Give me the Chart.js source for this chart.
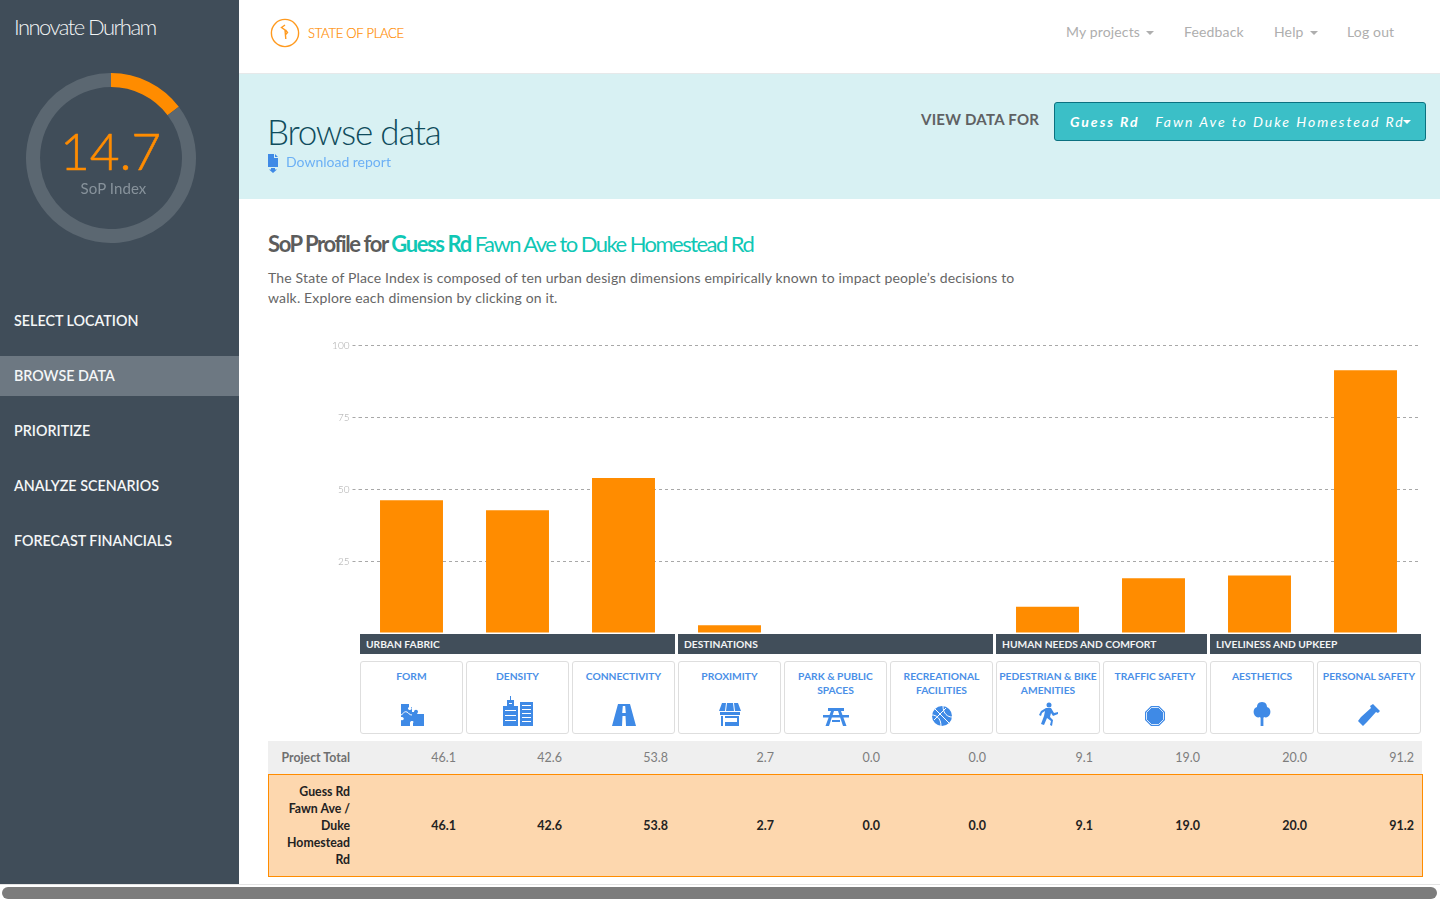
<!DOCTYPE html>
<html><head><meta charset="utf-8">
<script src="https://cdn.jsdelivr.net/npm/chart.js@4"></script>
<style>
html,body{margin:0;padding:0;width:1440px;height:900px;overflow:hidden;background:#fff;font-family:Lato,sans-serif;color:#666}
.t{position:absolute;white-space:nowrap;line-height:20px;height:20px}
.box{position:absolute;box-sizing:border-box}
.nav{position:absolute;left:14px;font-size:14.3px;font-weight:600;color:#f4f6f7;line-height:20px;white-space:nowrap}
.top{position:absolute;top:22px;font-size:14px;letter-spacing:.15px;color:#aeaeae;line-height:20px;white-space:nowrap;font-weight:400}
.caret{display:inline-block;border:4px solid transparent;border-top-color:#aeaeae;border-bottom:0;margin-left:6px;vertical-align:2px}
.grp{position:absolute;top:634px;height:20px;background:#414e5a;color:#f2f4f5;font-size:10.25px;font-weight:700;line-height:21px;padding-left:6px;box-sizing:border-box;white-space:nowrap}
.card{position:absolute;top:661px;height:73px;box-sizing:border-box;border:1px solid #dedede;border-radius:3px;background:#fff;text-align:center;color:#4a8fe7;font-size:10.25px;font-weight:700;line-height:14px;padding-top:7px}
.card svg{position:absolute;left:50%;bottom:7px;transform:translateX(-50%);fill:#3f8ae6}
.v{position:absolute;text-align:right;font-size:12.5px;line-height:20px;white-space:nowrap}
</style></head><body>

<div class="box" style="left:0;top:0;width:239px;height:884px;background:#404d59"></div>
<div class="box" style="left:0;top:356px;width:239px;height:40px;background:#6d7882"></div>
<div class="t" style="left:14px;top:16px;font-size:22px;line-height:22px;font-weight:300;letter-spacing:-1.55px;color:#f2f4f5">Innovate Durham</div>
<div style="position:absolute;left:21px;top:68px;width:180px;height:180px"><canvas id="ring"></canvas></div>
<div class="t" style="left:0;width:221px;text-align:center;top:124px;font-size:51.5px;line-height:52px;height:52px;font-weight:300;-webkit-text-stroke:.6px #ff8c00;letter-spacing:-.2px;color:#ff8c00" id="idx"></div>
<div class="t" style="left:0;width:227px;text-align:center;top:178px;font-size:15px;letter-spacing:.1px;color:#87929b">SoP Index</div>
<div class="nav" style="top:311px">SELECT LOCATION</div>
<div class="nav" style="top:366px">BROWSE DATA</div>
<div class="nav" style="top:421px">PRIORITIZE</div>
<div class="nav" style="top:476px">ANALYZE SCENARIOS</div>
<div class="nav" style="top:531px">FORECAST FINANCIALS</div>

<svg style="position:absolute;left:270px;top:18px" width="30" height="30" viewBox="0 0 30 30" fill="none" stroke="#ff9a1f" stroke-width="1.4"><circle cx="15" cy="15" r="13.6"/><path d="M15 7l-3.500 2.500 3.500 2.500 .8 9M15.500 12l2 2.500-1.800 2"/></svg>
<div class="t" style="left:308px;top:23px;font-size:13px;font-weight:300;-webkit-text-stroke:.2px #ff8c00;letter-spacing:-.25px;color:#ff8c00">STATE OF PLACE</div>
<div class="top" style="left:1066px">My projects<span class="caret"></span></div>
<div class="top" style="left:1184px">Feedback</div>
<div class="top" style="left:1274px">Help<span class="caret"></span></div>
<div class="top" style="left:1347px">Log out</div>

<div class="box" style="left:239px;top:73px;width:1201px;height:1px;background:#e6e9ea"></div>
<div class="box" style="left:239px;top:74px;width:1201px;height:125px;background:#d8f1f3"></div>
<div class="t" style="left:267px;top:110px;font-size:35px;line-height:42px;height:42px;font-weight:300;letter-spacing:-1.2px;color:#0f4c5c">Browse data</div>
<svg style="position:absolute;left:268px;top:154px" width="10" height="19" viewBox="0 0 10 19" fill="#3f8ae6"><path d="M0 0h6v4h4v9H0zM7 0l3 3H7zM3 14h4v1.500h2l-4 3.500-4-3.500h2z"/></svg>
<div class="t" style="left:286px;top:152px;font-size:14px;font-weight:400;color:#6cb0f5">Download report</div>
<div class="t" style="left:921px;top:109px;font-size:15px;letter-spacing:.25px;font-weight:700;color:#5f6163">VIEW DATA FOR</div>
<div class="box" style="left:1054px;top:102px;width:372px;height:39px;background:#3bbfc7;border:1px solid #0b7180;border-radius:3px"></div>
<div class="t" style="left:1070px;top:112px;font-size:14px;font-style:italic;letter-spacing:1.96px;color:#fff"><b>Guess Rd</b>&nbsp;&nbsp; Fawn Ave to Duke Homestead Rd</div>
<div class="box" style="left:1403px;top:120px;border:4px solid transparent;border-top-color:#fff;border-bottom:0"></div>

<div class="t" style="left:268px;top:232px;font-size:22px;line-height:24px;height:24px;letter-spacing:-1.4px;color:#5c5c5c;font-weight:700">SoP Profile for <span style="color:#0fc7b5">Guess Rd</span> <span style="color:#0fc7b5;font-weight:400;letter-spacing:-1.54px">Fawn Ave to Duke Homestead Rd</span></div>
<div class="t" style="left:268px;top:268px;font-size:14px;letter-spacing:.15px;color:#666">The State of Place Index is composed of ten urban design dimensions empirically known to impact people’s decisions to</div>
<div class="t" style="left:268px;top:288px;font-size:14px;letter-spacing:.15px;color:#666">walk. Explore each dimension by clicking on it.</div>

<div style="position:absolute;left:268px;top:335px;width:1151px;height:298px"><canvas id="bars"></canvas></div>

<div id="under"></div>
<div class="box" style="left:268px;top:741px;width:1154px;height:33px;background:#efefef"></div>
<div class="box" style="left:268px;top:774px;width:1155px;height:103px;background:#fdd7ae;border:1px solid #ff8c00"></div>
<div class="v" style="right:1090px;top:748px;font-weight:700;color:#6f6f6f;font-size:12.3px">Project Total</div>
<div class="v" style="right:1090px;top:783px;font-weight:700;color:#222;font-size:12.3px;line-height:17px;white-space:normal;width:80px">Guess Rd<br>Fawn Ave /<br>Duke<br>Homestead<br>Rd</div>
<div id="rows"></div>

<div class="box" style="left:0;top:884px;width:1440px;height:1px;background:#e4e4e4"></div>
<div class="box" style="left:2px;top:887px;width:1435px;height:12px;background:#7c7c7c;border-radius:6px"></div>

<script>
const categories = ["FORM","DENSITY","CONNECTIVITY","PROXIMITY","PARK & PUBLIC SPACES","RECREATIONAL FACILITIES","PEDESTRIAN & BIKE AMENITIES","TRAFFIC SAFETY","AESTHETICS","PERSONAL SAFETY"];
const projectTotal = [46.1,42.6,53.8,2.7,0.0,0.0,9.1,19.0,20.0,91.2];
const segmentValues = [46.1,42.6,53.8,2.7,0.0,0.0,9.1,19.0,20.0,91.2];
const tickLabels = [0,25,50,75,100];
const groupNames = ["URBAN FABRIC","DESTINATIONS","HUMAN NEEDS AND COMFORT","LIVELINESS AND UPKEEP"];
const sopIndex = 14.7;
const sopRemainder = 85.3;

/* page furniture positions */
const cardX = [[360,103],[466,103],[572,103],[678,103],[784,103],[890,103],[996,104],[1103,104],[1210,104],[1317,104]];
const groupX = [[360,315],[678,315],[996,211],[1210,211]];
const valueRight = [456,562,668,774,880,986,1093,1200,1307,1414];
const icons = [
 '<svg width="24" height="23" viewBox="0 0 24 23"><path d="M1 1h8v3c-2 1-1 3 1 3s2-2 1-3h1v5h2c0-3 4-3 4 0l-1 2h8v12H13v-3c2-2-3-3-3 0v3H1v-6c3 1 4-2 1-3H1z"/><path fill="none" stroke="#fff" stroke-width="1" d="M1 12c4-2 2-4 6-3 2 1 2 3 5 3"/></svg>',
 '<svg width="30" height="30" viewBox="0 0 30 30"><path d="M7 0h1v4h3v6h4v20H0V10h4V4h3z"/><path d="M17 6h13v24H17z"/><path fill="#fff" d="M2 14h11v1H2zM2 19h11v1H2zM2 24h11v1H2zM6 7h3v1H6zM19 9h9v1h-9zM19 13h9v1h-9zM19 17h9v1h-9zM19 21h9v1h-9zM19 25h9v1h-9z"/></svg>',
 '<svg width="24" height="22" viewBox="0 0 24 22"><path d="M6 0h12l6 22H0z"/><path fill="#fff" d="M10.800 2h2.400l.6 7h-3.600zM10.500 12h3l.5 10h-4z"/></svg>',
 '<svg width="22" height="23" viewBox="0 0 22 23"><path d="M3 0h4l-1 8H0zM8 0h6l1 8H7zM15 0h4l3 8h-6z"/><path d="M1 9h20v3H1zM2 13h2v10H2zM18 13h2v10h-2zM6 13h12v2H6zM6 19h12v4H6z"/></svg>',
 '<svg width="26" height="18" viewBox="0 0 26 18"><path d="M5 0h16v3H5zM0 7h26v2.500H0zM8 3h3L6 18H2.500zM15 3h3l5.500 15H20zM9 12h8v2H9z"/></svg>',
 '<svg width="20" height="20" viewBox="0 0 20 20"><circle cx="10" cy="10" r="10"/><path fill="none" stroke="#fff" stroke-width="1" d="M3 3l14 14M0 9c4 0 9 3 9 11M20 11c-4 0-9-3-9-11M14 2C10 6 6 10 2 14"/></svg>',
 '<svg width="20" height="24" viewBox="0 0 20 24"><circle cx="11" cy="3" r="2.500"/><path d="M8 6l5 0 3 5 4-1 0 2-5 2-2-3-1 4 3 3-1 6-2-1 1-4-4-3-3 7-3-1 3-8 1-5-3 2-1 3-2-1 2-4z"/></svg>',
 '<svg width="20" height="20" viewBox="0 0 20 20"><path d="M6 0h8l6 6v8l-6 6H6l-6-6V6z"/><path fill="none" stroke="#fff" stroke-width=".8" d="M6.500 1.500h7l5 5v7l-5 5h-7l-5-5v-7z"/></svg>',
 '<svg width="18" height="24" viewBox="0 0 18 24"><path d="M9 0c4 0 5 3 5 5 3 1 4 4 3 7s-4 4-6 3l-.6 1V24H7.600v-8L7 15c-2 1-5 0-6-3s0-6 3-7c0-2 1-5 5-5z"/></svg>',
 '<svg width="22" height="22" viewBox="0 0 22 22"><path d="M15 0l7 7-2 2-2-1-9 10-4 4-5-5 3-4 10-9-1-2z"/></svg>'
];

document.getElementById('idx').textContent = sopIndex.toFixed(1);

let under = '';
groupNames.forEach((g,i)=>{ under += `<div class="grp" style="left:${groupX[i][0]}px;width:${groupX[i][1]}px">${g}</div>`; });
categories.forEach((c,i)=>{ under += `<div class="card" style="left:${cardX[i][0]}px;width:${cardX[i][1]}px">${c.replace('&','&amp;')}${icons[i]}</div>`; });
document.getElementById('under').innerHTML = under;

let rows = '';
valueRight.forEach((r,i)=>{
  rows += `<div class="v" style="right:${1440-r}px;top:748px;color:#7d7d7d">${projectTotal[i].toFixed(1)}</div>`;
  rows += `<div class="v" style="right:${1440-r}px;top:816px;color:#222;font-weight:700">${segmentValues[i].toFixed(1)}</div>`;
});
document.getElementById('rows').innerHTML = rows;

Chart.defaults.animation = false;
new Chart(document.getElementById('ring'),{
  type:'doughnut',
  data:{labels:['SoP Index','Remainder'],datasets:[{data:[sopIndex,sopRemainder],backgroundColor:['#ff8c00','#5b6771'],borderWidth:0}]},
  options:{responsive:true,maintainAspectRatio:false,cutout:'83.5%',layout:{padding:5},plugins:{legend:{display:false},tooltip:{enabled:false}}}
});
new Chart(document.getElementById('bars'),{
  type:'bar',
  data:{labels:categories,datasets:[{label:'Score',data:segmentValues,backgroundColor:'#ff8c00',borderWidth:0,barPercentage:0.594,categoryPercentage:1}]},
  options:{
    responsive:true,maintainAspectRatio:false,
    layout:{padding:{top:10,right:0.5,bottom:0,left:0}},
    plugins:{legend:{display:false},tooltip:{enabled:false}},
    scales:{
      x:{display:false},
      y:{
        min:0,max:100,
        afterBuildTicks(a){a.ticks=tickLabels.map(v=>({value:v}));},
        afterFit(a){a.width=90.5;a.paddingTop=0;a.paddingBottom=0;},
        ticks:{font:{family:'Lato',size:10,weight:'300'},color:'#a6a6a6',padding:3,labelOffset:1,callback:v=>v===0?'':v},
        border:{display:false,dash:[3,3]},
        grid:{color:c=>c.tick.value===0?'rgba(0,0,0,0)':'#a8a8a8',lineWidth:1,tickLength:6,tickBorderDash:[3,3],tickColor:c=>c.tick.value===0?'rgba(0,0,0,0)':'#a8a8a8'}
      }
    }
  }
});
</script>
</body></html>
